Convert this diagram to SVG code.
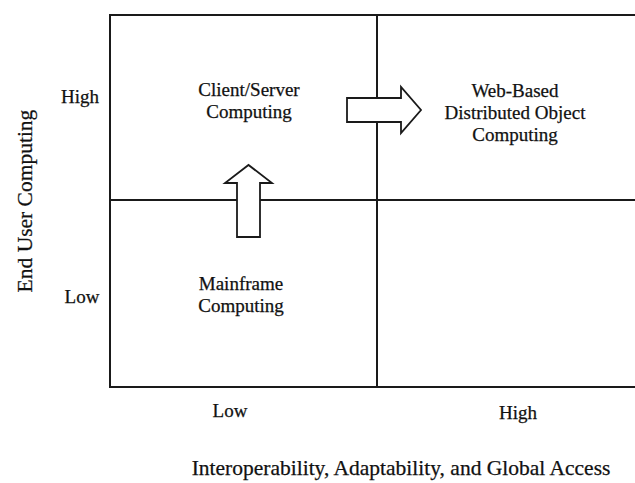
<svg xmlns="http://www.w3.org/2000/svg" width="635" height="483" viewBox="0 0 635 483">
  <style>
    .grid { stroke: #1a1a1a; stroke-width: 2; fill: none; }
    .arrow { stroke: #1a1a1a; stroke-width: 1.8; fill: #ffffff; stroke-linejoin: miter; }
    text { font-family: "Liberation Serif", "Times New Roman", serif; fill: #111111; stroke: #111111; stroke-width: 0.25; }
    .cell { font-size: 19px; text-anchor: middle; }
    .tick { font-size: 19px; text-anchor: middle; }
    .axis { font-size: 21.5px; text-anchor: middle; }
  </style>
  <rect width="635" height="483" fill="#ffffff" stroke="none"/>

  <!-- quadrant grid -->
  <g id="grid">
    <path class="grid" d="M636 15 H110 V387 H636"/>
    <line class="grid" x1="110" y1="200" x2="636" y2="200"/>
    <line class="grid" x1="377" y1="15" x2="377" y2="387"/>
  </g>

  <!-- transition arrows -->
  <g id="connectors">
    <path class="arrow" d="M237 237 V183 H225 L248.5 165 L272 183 H260 V237 Z"/>
    <path class="arrow" d="M347 98 H401 V87 L421 110 L401 133 V122 H347 Z"/>
  </g>

  <g id="client-server">
    <text class="cell" x="249" y="96">Client/Server</text>
    <text class="cell" x="249" y="118">Computing</text>
  </g>

  <g id="web-based">
    <text class="cell" x="515" y="97">Web-Based</text>
    <text class="cell" x="515" y="119">Distributed Object</text>
    <text class="cell" x="515" y="141">Computing</text>
  </g>

  <g id="mainframe">
    <text class="cell" x="241" y="290">Mainframe</text>
    <text class="cell" x="241" y="312">Computing</text>
  </g>

  <!-- axis labels -->
  <g id="y-axis">
    <text class="tick" x="80" y="103">High</text>
    <text class="tick" x="82" y="303">Low</text>
    <text class="axis" transform="translate(32 201) rotate(-90)">End User Computing</text>
  </g>

  <g id="x-axis">
    <text class="tick" x="230" y="417">Low</text>
    <text class="tick" x="518" y="419">High</text>
    <text class="axis" x="401" y="475">Interoperability, Adaptability, and Global Access</text>
  </g>
</svg>
